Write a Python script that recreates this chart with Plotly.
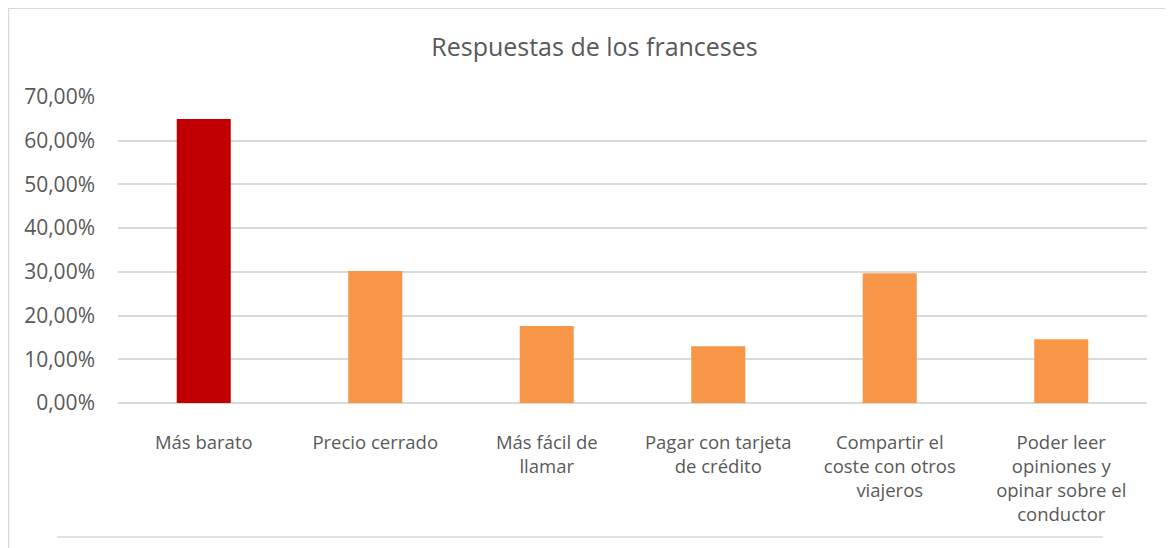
import plotly.graph_objects as go

##### Data #####
categorias = [
    'Más barato',
    'Precio cerrado',
    'Más fácil de<br>llamar',
    'Pagar con tarjeta<br>de crédito',
    'Compartir el<br>coste con otros<br>viajeros',
    'Poder leer<br>opiniones y<br>opinar sobre el<br>conductor',
]
respuestas = [0.6495, 0.302, 0.176, 0.130, 0.297, 0.146]
colores = ['#C00000', '#F79646', '#F79646', '#F79646', '#F79646', '#F79646']
ticks_y = [0, 0.1, 0.2, 0.3, 0.4, 0.5, 0.6, 0.7]

FONT = 'Open Sans'
GRIS = '#595959'

fig = go.Figure(go.Bar(
    x=categorias,
    y=respuestas,
    marker=dict(color=colores, line=dict(width=0)),
    hovertemplate='%{y:.2%}<extra></extra>',
))

# chart border like the Excel frame (partly cropped)
border = dict(type='line', xref='paper', yref='paper', line=dict(color='#D9D9D9', width=1.5))
fig.add_shape(**border, x0=-0.1065, x1=-0.1065, y0=-0.48, y1=1.29)
fig.add_shape(**border, x0=-0.1065, x1=1.04, y0=1.29, y1=1.29)
fig.add_shape(**border, x0=-0.059, x1=0.957, y0=-0.438, y1=-0.438)

fig.update_layout(
    width=1173,
    height=548,
    margin=dict(l=110, r=34, t=89, b=153),
    paper_bgcolor='white',
    plot_bgcolor='white',
    separators=',.',
    showlegend=False,
    bargap=0.685,
    title=dict(
        text='Respuestas de los franceses',
        x=0.5, xref='container', xanchor='center',
        y=1 - 39 / 548, yanchor='middle',
        font=dict(family=FONT, size=25, color=GRIS),
    ),
    xaxis=dict(
        showgrid=False,
        showline=False,
        ticks='',
        tickfont=dict(family=FONT, size=18.5, color=GRIS),
        ticklabelstandoff=26,
    ),
    yaxis=dict(
        range=[0, 0.7],
        tickvals=ticks_y,
        tickformat='.2%',
        showgrid=True,
        gridcolor='#D9D9D9',
        gridwidth=1.5,
        zeroline=True,
        zerolinecolor='#D9D9D9',
        zerolinewidth=1.5,
        showline=False,
        ticks='',
        ticklabelstandoff=22,
        tickfont=dict(family=FONT, size=21, color=GRIS),
    ),
)

fig.write_html('out.html')
